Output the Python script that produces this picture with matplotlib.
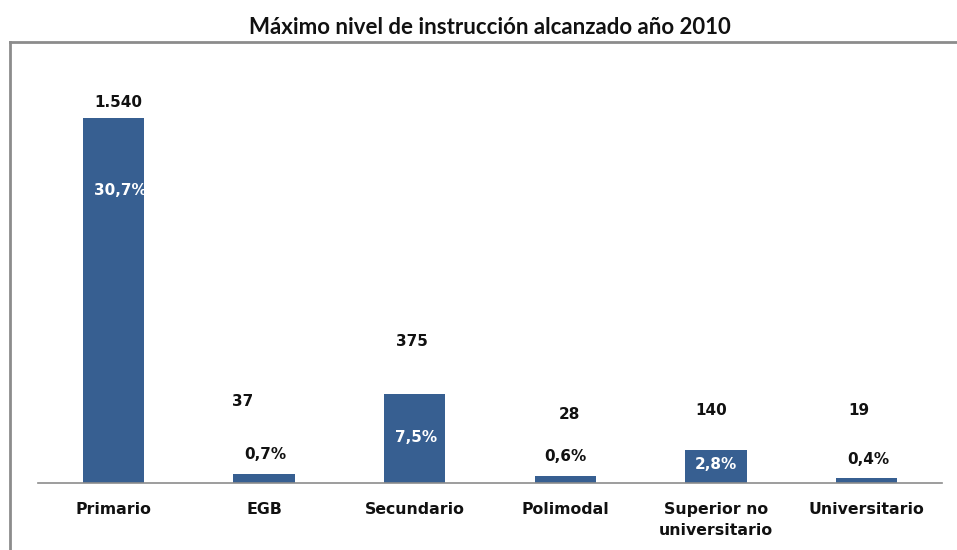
import matplotlib
matplotlib.use("Agg")
import matplotlib.pyplot as plt
from matplotlib.lines import Line2D

# ---- data ----
categories = ["Primario", "EGB", "Secundario", "Polimodal", "Superior no\nuniversitario", "Universitario"]
values = [1540, 37, 375, 28, 140, 19]
value_labels = ["1.540", "37", "375", "28", "140", "19"]
pct_labels = ["30,7%", "0,7%", "7,5%", "0,6%", "2,8%", "0,4%"]
title = "Máximo nivel de instrucción alcanzado año 2010"

# ---- layout (label placement, as in the reference) ----
val_label_y = [1607, 346, 599, 291, 304, 304]
val_label_dx = [0.03, -0.14, -0.02, 0.03, -0.03, -0.05]
pct_label_y = [1236, 122, 194, 110, 76, 101]
pct_label_dx = [0.05, 0.01, 0.01, 0.0, 0.0, 0.01]
pct_inside = [True, False, True, False, True, False]

W, H = 957, 550
fig = plt.figure(figsize=(W / 100, H / 100), dpi=100)
fig.patch.set_facecolor("white")

ax = fig.add_axes([38 / W, (H - 483) / H, 904 / W, (483 - 42) / H])
x = list(range(len(categories)))
bar_color = "#375F91"
ax.bar(x, values, width=0.405, color=bar_color, zorder=2)
ax.set_xlim(-0.5, 5.5)
ax.set_ylim(0, 1861)

for s in ["top", "right", "left"]:
    ax.spines[s].set_visible(False)
ax.spines["bottom"].set_color("#8c8c8c")
ax.spines["bottom"].set_linewidth(1.2)
ax.set_yticks([])
ax.set_xticks(x)
ax.set_xticklabels(categories, fontsize=11.3, fontweight="bold", color="#111111",
                   family="DejaVu Sans", linespacing=1.5)
ax.tick_params(axis="x", length=0, pad=14)
ax.patch.set_alpha(0)

for i in x:
    ax.text(i + val_label_dx[i], val_label_y[i], value_labels[i], ha="center", va="center",
            fontsize=11, fontweight="bold", color="#111111", family="DejaVu Sans", zorder=3)
    ax.text(i + pct_label_dx[i], pct_label_y[i], pct_labels[i], ha="center", va="center",
            fontsize=11, fontweight="bold",
            color="white" if pct_inside[i] else "#111111", family="DejaVu Sans", zorder=3)

# chart area border
fig.add_artist(Line2D([10 / W, 10 / W], [0, (H - 42) / H], transform=fig.transFigure,
                      color="#8c8c8c", lw=2))
fig.add_artist(Line2D([10 / W, 1], [(H - 42) / H, (H - 42) / H], transform=fig.transFigure,
                      color="#8c8c8c", lw=2))

fig.text(490 / W, (H - 27) / H, title, ha="center", va="center", fontsize=16,
         fontweight="bold", family="Lato", color="#111111")

fig.savefig("out.png", dpi=100, facecolor="white")
